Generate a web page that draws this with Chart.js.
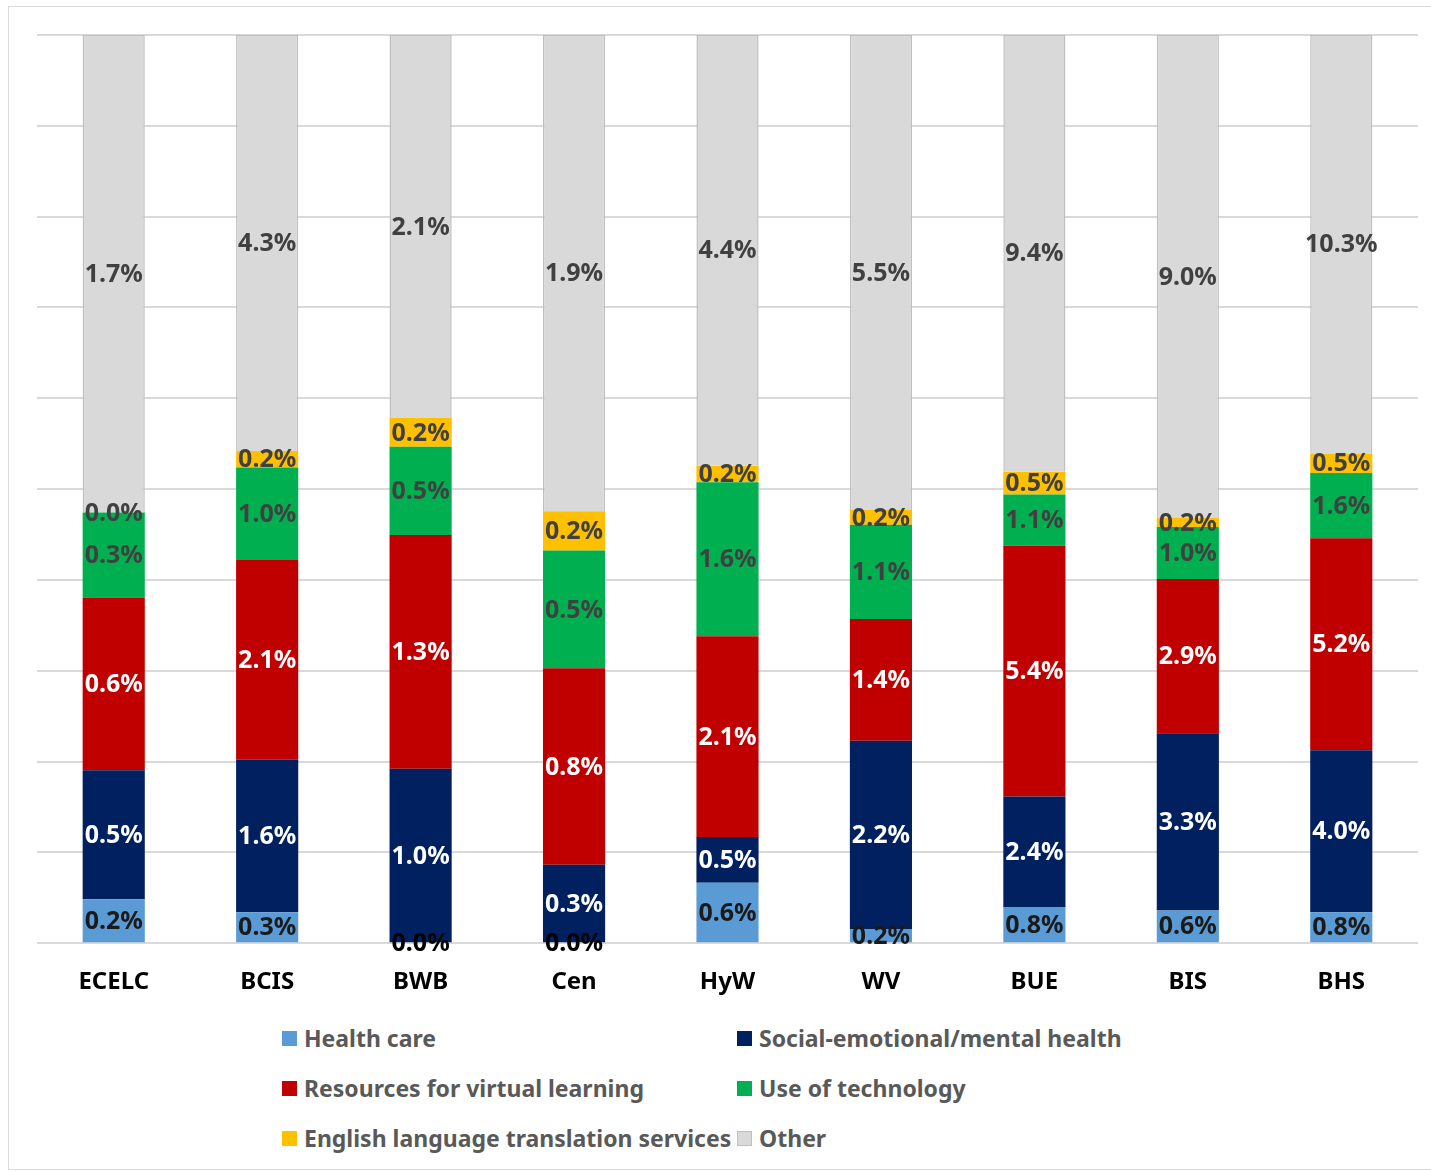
<!DOCTYPE html>
<html>
<head>
<meta charset="utf-8">
<script src="https://cdn.jsdelivr.net/npm/chart.js@4.4.0/dist/chart.umd.min.js"></script>
<style>
  body { margin: 0; background: #fff; }
  .frame { position: absolute; left: 8px; top: 6px; width: 1440px; height: 1164px; border: 1px solid #d9d9d9; box-sizing: border-box; }
  #chart { position: absolute; left: 0; top: 0; }
  .legend { position: absolute; left: 282px; top: 1024px; display: grid; grid-template-columns: 455px 455px; row-gap: 22px;
            font-family: "Noto Sans", sans-serif; font-weight: bold; font-size: 23px; color: #595959; }
  .legend div { display: flex; align-items: center; height: 28px; white-space: nowrap; }
  .legend span.box { width: 15px; height: 15px; margin-right: 7px; box-sizing: border-box; }
</style>
</head>
<body>
<div class="frame"></div>
<canvas id="chart" width="1431" height="1021"></canvas>
<div class="legend" id="legend"></div>
<script>
// categorieen en waarden (in %)
const categories = ["ECELC", "BCIS", "BWB", "Cen", "HyW", "WV", "BUE", "BIS", "BHS"];
const healthCare      = [0.16, 0.32, 0.00, 0.00, 0.62, 0.16, 0.78, 0.61, 0.76];
const socialEmotional = [0.47, 1.58, 0.97, 0.32, 0.47, 2.20, 2.39, 3.31, 3.98];
const virtualLearning = [0.63, 2.07, 1.30, 0.80, 2.06, 1.42, 5.41, 2.88, 5.21];
const technology      = [0.31, 0.96, 0.49, 0.48, 1.58, 1.10, 1.11, 0.97, 1.60];
const translation     = [0.00, 0.17, 0.16, 0.16, 0.17, 0.17, 0.49, 0.17, 0.48];
const other           = [1.74, 4.31, 2.13, 1.94, 4.42, 5.54, 9.43, 9.02, 10.28];

const seriesNames = ["Health care", "Social-emotional/mental health", "Resources for virtual learning",
  "Use of technology", "English language translation services", "Other"];
const seriesValues = [healthCare, socialEmotional, virtualLearning, technology, translation, other];
const seriesColors = ["#5b9bd5", "#002060", "#c00000", "#00b050", "#ffc000", "#d9d9d9"];
const labelColors = ["#1a1a1a", "#ffffff", "#ffffff", "#404040", "#404040", "#404040"];

// totaal per categorie, om elke staaf op 100% te zetten
const totals = categories.map((c, i) => seriesValues.reduce((s, arr) => s + arr[i], 0));

const datasets = seriesNames.map((name, k) => ({
  label: name,
  data: seriesValues[k].map((v, i) => v / totals[i] * 100),
  raw: seriesValues[k],
  backgroundColor: seriesColors[k],
  borderColor: k === 5 ? "#bfbfbf" : seriesColors[k],
  borderWidth: k === 5 ? 1.5 : 0,
  labelColor: labelColors[k],
  barPercentage: 0.405,
  categoryPercentage: 1
}));

// labels in het midden van elk segment
const segmentLabels = {
  id: "segmentLabels",
  afterDatasetsDraw(chart) {
    const ctx = chart.ctx;
    ctx.save();
    ctx.font = "bold 25px 'Noto Sans'";
    ctx.textAlign = "center";
    ctx.textBaseline = "middle";
    chart.data.datasets.forEach((ds, k) => {
      const meta = chart.getDatasetMeta(k);
      meta.data.forEach((bar, i) => {
        ctx.fillStyle = ds.labelColor;
        if (ds.raw[i] === 0 && k < 2) ctx.fillStyle = "#000000";
        ctx.fillText(ds.raw[i].toFixed(1) + "%", bar.x, (bar.y + bar.base) / 2 + 1);
      });
    });
    ctx.restore();
  }
};

const chart = new Chart(document.getElementById("chart"), {
  type: "bar",
  data: { labels: categories, datasets: datasets },
  options: {
    responsive: false,
    animation: false,
    layout: { padding: { left: 37, right: 13, top: 35, bottom: 7 } },
    plugins: { legend: { display: false }, tooltip: { enabled: false } },
    scales: {
      x: {
        stacked: true,
        grid: { display: false },
        border: { display: false },
        ticks: { color: "#000", padding: 17, font: { family: "Noto Sans", weight: "bold", size: 24 } }
      },
      y: {
        stacked: true,
        min: 0,
        max: 100,
        ticks: { display: false, stepSize: 10 },
        grid: { color: "#d9d9d9", lineWidth: 2, drawTicks: false },
        border: { display: false }
      }
    }
  },
  plugins: [segmentLabels]
});

// legenda in twee kolommen
const legendEl = document.getElementById("legend");
chart.data.datasets.forEach(ds => {
  const item = document.createElement("div");
  const box = document.createElement("span");
  box.className = "box";
  box.style.background = ds.backgroundColor;
  if (ds.borderWidth) box.style.border = "1px solid " + ds.borderColor;
  item.appendChild(box);
  item.appendChild(document.createTextNode(ds.label));
  legendEl.appendChild(item);
});
</script>
</body>
</html>
